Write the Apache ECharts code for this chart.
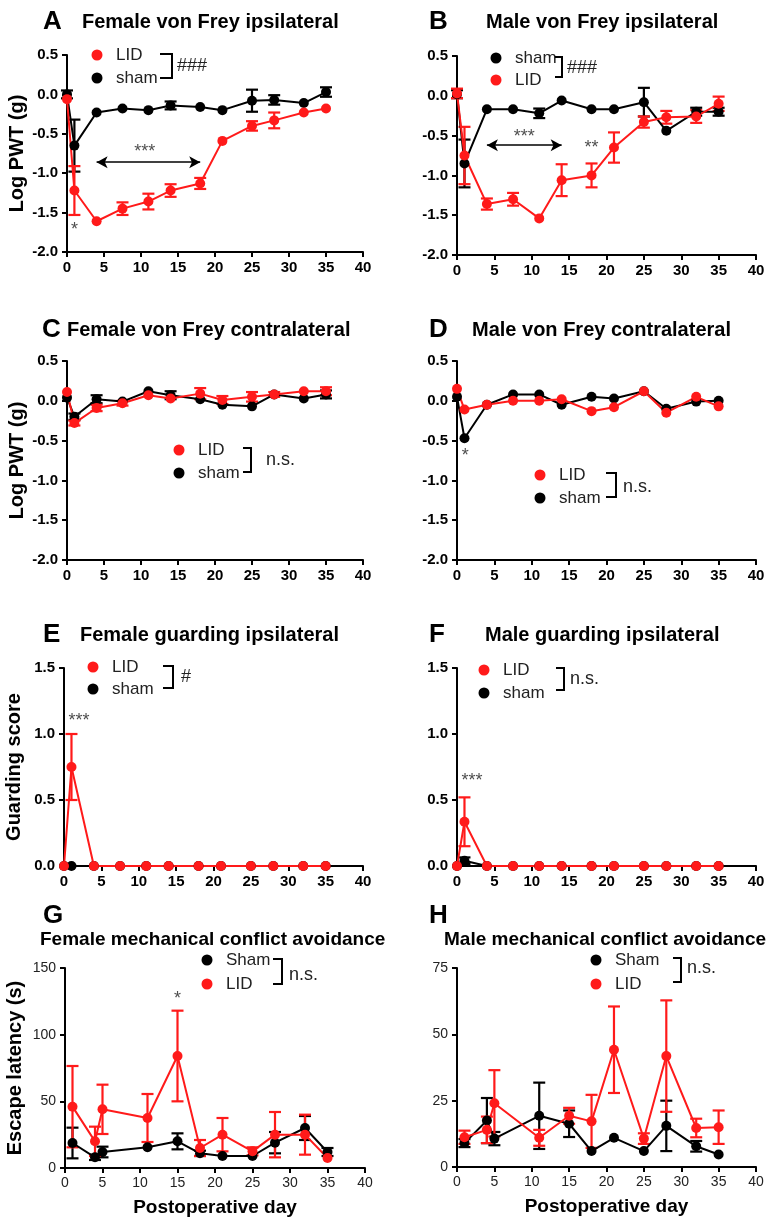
<!DOCTYPE html>
<html>
<head>
<meta charset="utf-8">
<script src="https://cdn.jsdelivr.net/npm/echarts@6/dist/echarts.min.js"></script>
<style>
    html, body { margin: 0; padding: 0; background: #fff; }
    #fig { width: 772px; height: 1218px; }
</style>
</head>
<body>
<div id="fig"></div>
<script>
// days for von Frey / guarding panels (A-F) and conflict avoidance (G, H)
var vfDays = [0, 1, 4, 7.5, 11, 14, 18, 21, 25, 28, 32, 35];
var mcaDays = [1, 4, 5, 11, 15, 18, 21, 25, 28, 32, 35];

// A  Female von Frey ipsilateral
var aSham = [0.0, -0.65, -0.23, -0.18, -0.2, -0.14, -0.16, -0.2, -0.08, -0.07, -0.11, 0.03];
var aShamErr = [0.05, 0.33, 0, 0, 0, 0.05, 0, 0, 0.14, 0.06, 0, 0.06];
var aLid = [-0.06, -1.22, -1.61, -1.45, -1.36, -1.22, -1.13, -0.59, -0.4, -0.33, -0.23, -0.18];
var aLidErr = [0, 0.31, 0, 0.08, 0.1, 0.08, 0.07, 0, 0.06, 0.1, 0, 0];

// B  Male von Frey ipsilateral
var bSham = [0.02, -0.85, -0.17, -0.17, -0.22, -0.06, -0.17, -0.17, -0.08, -0.44, -0.2, -0.2];
var bShamErr = [0.05, 0.3, 0, 0, 0.06, 0, 0, 0, 0.18, 0, 0.05, 0.05];
var bLid = [0.03, -0.75, -1.36, -1.3, -1.54, -1.06, -1.0, -0.65, -0.33, -0.27, -0.26, -0.1];
var bLidErr = [0.06, 0.36, 0.07, 0.08, 0, 0.2, 0.15, 0.19, 0.07, 0.08, 0.08, 0.09];

// C  Female von Frey contralateral
var cSham = [0.04, -0.2, 0.02, -0.01, 0.12, 0.07, 0.02, -0.05, -0.07, 0.08, 0.03, 0.08];
var cShamErr = [0, 0.04, 0.05, 0, 0, 0.05, 0, 0, 0, 0, 0, 0.05];
var cLid = [0.11, -0.28, -0.09, -0.03, 0.07, 0.03, 0.09, 0.01, 0.05, 0.08, 0.12, 0.12];
var cLidErr = [0, 0.03, 0.04, 0.03, 0, 0, 0.07, 0.05, 0.06, 0.03, 0, 0.05];

// D  Male von Frey contralateral
var dSham = [0.05, -0.47, -0.05, 0.08, 0.08, -0.05, 0.05, 0.03, 0.12, -0.1, -0.01, 0.0];
var dShamErr = [0, 0, 0, 0, 0, 0, 0, 0, 0, 0, 0, 0];
var dLid = [0.15, -0.11, -0.05, 0.0, 0.0, 0.02, -0.13, -0.08, 0.12, -0.15, 0.05, -0.07];
var dLidErr = [0, 0, 0, 0, 0, 0, 0, 0, 0, 0, 0, 0];

// E  Female guarding ipsilateral
var eSham = [0, 0, 0, 0, 0, 0, 0, 0, 0, 0, 0, 0];
var eShamErr = [0, 0, 0, 0, 0, 0, 0, 0, 0, 0, 0, 0];
var eLid = [0, 0.75, 0, 0, 0, 0, 0, 0, 0, 0, 0, 0];
var eLidErr = [0, 0.25, 0, 0, 0, 0, 0, 0, 0, 0, 0, 0];

// F  Male guarding ipsilateral
var fSham = [0, 0.04, 0, 0, 0, 0, 0, 0, 0, 0, 0, 0];
var fShamErr = [0, 0.025, 0, 0, 0, 0, 0, 0, 0, 0, 0, 0];
var fLid = [0, 0.335, 0, 0, 0, 0, 0, 0, 0, 0, 0, 0];
var fLidErr = [0, 0.185, 0, 0, 0, 0, 0, 0, 0, 0, 0, 0];

// G  Female mechanical conflict avoidance
var gSham = [18.75, 8, 12, 15.5, 20, 11, 9, 9, 19, 30, 12];
var gShamErr = [11.5, 2, 4, 0, 6, 2, 0, 0, 8, 9, 3];
var gLid = [46, 20, 44, 37.5, 84, 15, 25, 12.5, 25, 25, 7.5];
var gLidErr = [30.5, 11, 18.5, 18, 34, 6, 12.5, 3, 17, 15, 0];

// H  Male mechanical conflict avoidance
var hSham = [9, 17.5, 10.7, 19.3, 16.3, 6, 11, 6, 15.5, 7.8, 4.7];
var hShamErr = [1.5, 8.5, 2.5, 12.5, 5, 0, 0, 0, 9.5, 2, 0];
var hLid = [11.2, 14, 24, 11, 19.3, 17.2, 44.2, 10.7, 41.8, 14.7, 15];
var hLidErr = [2.5, 5, 12.5, 3, 3, 10, 16.3, 2, 21, 3.5, 6.3];

// significance marks, [x, y, text]
var aMarks = [[1, -1.72, '*'], [10.5, -0.73, '***']];
var bMarks = [[9, -0.52, '***'], [18, -0.66, '**']];
var dMarks = [[1.1, -0.7, '*']];
var eMarks = [[2, 1.1, '***']];
var fMarks = [[2, 0.64, '***']];
var gMarks = [[15, 127, '*']];
var aArrow = [4, 18, -0.86];
var bArrow = [4, 14, -0.62];

var FONT = '"Liberation Sans", Arial, Helvetica, sans-serif';
var RED = '#ff1a1a';
var BLACK = '#000';

var panels = [
    {letter: 'A', title: 'Female von Frey ipsilateral', grid: [67, 55, 296, 197], y: [-2, 0.5, 0.5], yName: 'Log PWT (g)',
        x: vfDays, sham: aSham, shamErr: aShamErr, lid: aLid, lidErr: aLidErr, marks: aMarks, arrow: aArrow,
        letterPos: [43, 22], titlePos: [82, 22],
        legend: {dotX: 97, rows: [[55, RED, 'LID'], [78, BLACK, 'sham']], bracket: [160, 172, 54, 78], sig: '###', sigPos: [177, 66]}},
    {letter: 'B', title: 'Male von Frey ipsilateral', grid: [457, 56, 299, 199], y: [-2, 0.5, 0.5],
        x: vfDays, sham: bSham, shamErr: bShamErr, lid: bLid, lidErr: bLidErr, marks: bMarks, arrow: bArrow,
        letterPos: [429, 22], titlePos: [486, 22],
        legend: {dotX: 496, rows: [[58, BLACK, 'sham'], [80, RED, 'LID']], bracket: [555, 562, 57, 77], sig: '###', sigPos: [567, 68]}},
    {letter: 'C', title: 'Female von Frey contralateral', grid: [67, 361, 296, 199], y: [-2, 0.5, 0.5], yName: 'Log PWT (g)',
        x: vfDays, sham: cSham, shamErr: cShamErr, lid: cLid, lidErr: cLidErr, marks: [],
        letterPos: [42, 330], titlePos: [67, 330],
        legend: {dotX: 179, rows: [[450, RED, 'LID'], [473, BLACK, 'sham']], bracket: [243, 251, 448, 472], sig: 'n.s.', sigPos: [266, 460]}},
    {letter: 'D', title: 'Male von Frey contralateral', grid: [457, 361, 299, 199], y: [-2, 0.5, 0.5],
        x: vfDays, sham: dSham, shamErr: dShamErr, lid: dLid, lidErr: dLidErr, marks: dMarks,
        letterPos: [429, 330], titlePos: [472, 330],
        legend: {dotX: 540, rows: [[475, RED, 'LID'], [498, BLACK, 'sham']], bracket: [606, 616, 473, 497], sig: 'n.s.', sigPos: [623, 487]}},
    {letter: 'E', title: 'Female guarding ipsilateral', grid: [64, 668, 299, 198], y: [0, 1.5, 0.5], yName: 'Guarding score',
        x: vfDays, sham: eSham, shamErr: eShamErr, lid: eLid, lidErr: eLidErr, marks: eMarks,
        letterPos: [43, 635], titlePos: [80, 635],
        legend: {dotX: 93, rows: [[667, RED, 'LID'], [689, BLACK, 'sham']], bracket: [163, 173, 666, 688], sig: '#', sigPos: [181, 677]}},
    {letter: 'F', title: 'Male guarding ipsilateral', grid: [457, 668, 299, 198], y: [0, 1.5, 0.5],
        x: vfDays, sham: fSham, shamErr: fShamErr, lid: fLid, lidErr: fLidErr, marks: fMarks,
        letterPos: [429, 635], titlePos: [485, 635],
        legend: {dotX: 484, rows: [[670, RED, 'LID'], [693, BLACK, 'sham']], bracket: [556, 564, 668, 690], sig: 'n.s.', sigPos: [570, 679]}},
    {letter: 'G', title: 'Female mechanical conflict avoidance', grid: [65, 968, 300, 200], y: [0, 150, 50], yName: 'Escape latency (s)', xName: 'Postoperative day', light: true,
        x: mcaDays, sham: gSham, shamErr: gShamErr, lid: gLid, lidErr: gLidErr, marks: gMarks,
        letterPos: [43, 916], titlePos: [40, 940], titleSize: 19,
        legend: {dotX: 207, rows: [[960, BLACK, 'Sham'], [984, RED, 'LID']], bracket: [273, 282, 959, 984], sig: 'n.s.', sigPos: [289, 975]}},
    {letter: 'H', title: 'Male mechanical conflict avoidance', grid: [457, 968, 299, 199], y: [0, 75, 25], xName: 'Postoperative day', light: true,
        x: mcaDays, sham: hSham, shamErr: hShamErr, lid: hLid, lidErr: hLidErr, marks: [],
        letterPos: [429, 916], titlePos: [444, 940], titleSize: 19,
        legend: {dotX: 596, rows: [[960, BLACK, 'Sham'], [984, RED, 'LID']], bracket: [673, 681, 958, 982], sig: 'n.s.', sigPos: [687, 968]}}
];

function pairs(xs, ys) {
    return xs.map(function (x, i) { return [x, ys[i]]; });
}

function errData(xs, ys, es) {
    var out = [];
    xs.forEach(function (x, i) {
        if (es[i] > 0) out.push([x, ys[i], es[i]]);
    });
    return out;
}

function errRender(color) {
    return function (params, api) {
        var x = api.value(0), y = api.value(1), e = api.value(2);
        var hi = api.coord([x, y + e]);
        var lo = api.coord([x, y - e]);
        var w = 6;
        var st = {stroke: color, lineWidth: 2.2};
        return {
            type: 'group',
            children: [
                {type: 'line', shape: {x1: hi[0], y1: hi[1], x2: lo[0], y2: lo[1]}, style: st},
                {type: 'line', shape: {x1: hi[0] - w, y1: hi[1], x2: hi[0] + w, y2: hi[1]}, style: st},
                {type: 'line', shape: {x1: lo[0] - w, y1: lo[1], x2: lo[0] + w, y2: lo[1]}, style: st}
            ]
        };
    };
}

var option = {
    animation: false,
    backgroundColor: '#fff',
    grid: [], xAxis: [], yAxis: [], series: [], graphic: []
};

panels.forEach(function (p, i) {
    var labelStyle = p.light
        ? {color: '#222', fontSize: 14, fontWeight: 'normal', fontFamily: FONT}
        : {color: '#000', fontSize: 15, fontWeight: 'bold', fontFamily: FONT};
    var axisLine = {show: true, onZero: false, lineStyle: {color: '#000', width: 2}};
    var axisTick = {show: true, length: 5, lineStyle: {color: '#000', width: 2}};
    var nameStyle = {color: '#000', fontSize: 19, fontWeight: 'bold', fontFamily: FONT};

    option.grid.push({left: p.grid[0], top: p.grid[1], width: p.grid[2], height: p.grid[3], containLabel: false});
    option.xAxis.push({
        gridIndex: i, type: 'value', min: 0, max: 40, interval: 5,
        axisLine: axisLine, axisTick: axisTick, splitLine: {show: false},
        axisLabel: Object.assign({margin: 8}, labelStyle),
        name: p.xName || '', nameLocation: 'middle', nameGap: 30, nameTextStyle: nameStyle
    });
    var yDec = p.y[2] < 1;
    option.yAxis.push({
        gridIndex: i, type: 'value', min: p.y[0], max: p.y[1], interval: p.y[2],
        axisLine: axisLine, axisTick: axisTick, splitLine: {show: false},
        axisLabel: Object.assign({margin: 9, formatter: function (v) { return yDec ? v.toFixed(1) : String(v); }}, labelStyle),
        name: p.yName || '', nameLocation: 'middle', nameGap: 40, nameTextStyle: Object.assign({}, nameStyle, {fontSize: 20})
    });

    var groups = [[p.sham, p.shamErr, BLACK, 'sham'], [p.lid, p.lidErr, RED, 'LID']];
    groups.forEach(function (g) {
        option.series.push({
            type: 'custom', name: g[3] + ' err', xAxisIndex: i, yAxisIndex: i,
            data: errData(p.x, g[0], g[1]), renderItem: errRender(g[2]),
            encode: {x: 0, y: 1}, z: 2
        });
        var s = {
            type: 'line', name: g[3], xAxisIndex: i, yAxisIndex: i,
            data: pairs(p.x, g[0]), symbol: 'circle', symbolSize: 10, clip: false,
            itemStyle: {color: g[2]}, lineStyle: {color: g[2], width: 2}, z: 3
        };
        if (g[3] === 'sham' && p.arrow) {
            s.markLine = {
                silent: true, symbol: ['arrow', 'arrow'], symbolSize: [9, 11],
                label: {show: false},
                lineStyle: {color: '#000', width: 1.5, type: 'solid'},
                data: [[{coord: [p.arrow[0], p.arrow[2]]}, {coord: [p.arrow[1], p.arrow[2]]}]]
            };
        }
        option.series.push(s);
    });

    if (p.marks.length) {
        option.series.push({
            type: 'scatter', xAxisIndex: i, yAxisIndex: i, symbolSize: 1,
            itemStyle: {color: 'rgba(0,0,0,0)'}, silent: true,
            data: p.marks.map(function (m) { return {value: [m[0], m[1]], name: m[2]}; }),
            label: {show: true, position: 'inside', formatter: '{b}', color: '#222', fontSize: 18, fontFamily: FONT}
        });
    }

    // panel letter and title
    option.graphic.push({type: 'text', x: p.letterPos[0], y: p.letterPos[1],
        style: {text: p.letter, fill: '#000', font: 'bold 26px ' + FONT, verticalAlign: 'middle'}});
    option.graphic.push({type: 'text', x: p.titlePos[0], y: p.titlePos[1],
        style: {text: p.title, fill: '#000', font: 'bold ' + (p.titleSize || 20) + 'px ' + FONT, verticalAlign: 'middle'}});

    // legend with bracket
    var lg = p.legend;
    lg.rows.forEach(function (r) {
        option.graphic.push({type: 'circle', shape: {cx: lg.dotX, cy: r[0], r: 5.5}, style: {fill: r[1]}});
        option.graphic.push({type: 'text', x: lg.dotX + 19, y: r[0],
            style: {text: r[2], fill: '#222', font: '17px ' + FONT, verticalAlign: 'middle'}});
    });
    var b = lg.bracket;
    option.graphic.push({type: 'polyline', shape: {points: [[b[0], b[2]], [b[1], b[2]], [b[1], b[3]], [b[0], b[3]]]},
        style: {stroke: '#000', lineWidth: 2, fill: null}});
    option.graphic.push({type: 'text', x: lg.sigPos[0], y: lg.sigPos[1],
        style: {text: lg.sig, fill: '#222', font: '18px ' + FONT, verticalAlign: 'middle'}});
});

var chart = echarts.init(document.getElementById('fig'));
chart.setOption(option);
</script>
</body>
</html>
